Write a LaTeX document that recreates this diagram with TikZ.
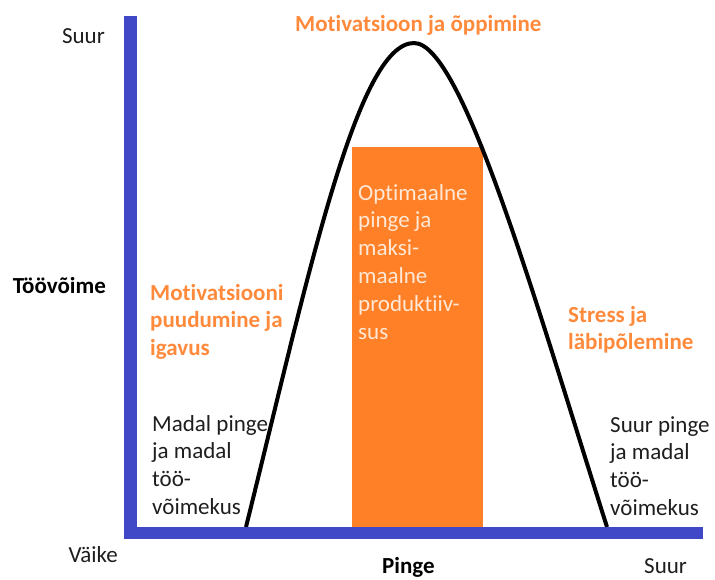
\documentclass[tikz,border=0pt]{standalone}
\usepackage{fontspec}
\setmainfont{Carlito}[Ligatures=NoCommon]
\definecolor{axisblue}{HTML}{4048C8}
\definecolor{boxorange}{HTML}{FF8026}
\definecolor{txtorange}{HTML}{FF8A3C}
\definecolor{boxtext}{HTML}{FFE8D6}
\definecolor{darktext}{HTML}{1E1E1E}
\newcommand\stackedlines[1]{\vtop{\baselineskip=27.8pt\lineskiplimit=-20pt\lineskip=0pt #1}}
\begin{document}
\begin{tikzpicture}[x=1pt,y=-1pt,
  every node/.style={inner sep=0pt, font=\fontsize{23}{28}\selectfont},
  lbl/.style={text=darktext},
  bold/.style={text=black, font=\fontsize{23}{28}\selectfont\bfseries},
  hot/.style={text=txtorange, font=\fontsize{23}{28}\selectfont\bfseries},
  boxlbl/.style={text=boxtext},
  axisbar/.style={fill=axisblue, draw=none},
  curveline/.style={line width=4pt, line join=round, black}]
\useasboundingbox (0,0) rectangle (715,579);
% optimal zone
\fill[boxorange] (352,147) rectangle (483,527);
% bell curve
\coordinate (cl) at (246,527);
\coordinate (ctop) at (414,43);
\coordinate (cr) at (607,527);
\draw[curveline] (cl) .. controls (308,277) and (357,43) .. (ctop)
  .. controls (462,43) and (534,297) .. (cr);
% axes
\fill[axisbar] (124,16) rectangle (137,539);
\fill[axisbar] (124,527) rectangle (703,539);
% axis labels
\node[lbl, anchor=base east] (ytop) at (105,43) {Suur};
\node[bold, anchor=base east] (ylab) at (106,293) {Töövõime};
\node[lbl, anchor=base east] (ylow) at (118,562) {Väike};
\node[bold, anchor=base west] (xlab) at (382,573) {Pinge};
\node[lbl, anchor=base west] (xhigh) at (644,573) {Suur};
% zone labels
\node[hot, anchor=base west] (peak) at (295,31) {Motivatsioon ja õppimine};
\node[hot, anchor=base west] (bored) at (150,300)
  {\stackedlines{\hbox{Motivatsiooni}\hbox{puudumine ja}\hbox{igavus}}};
\node[lbl, anchor=base west] (low) at (152,431)
  {\stackedlines{\hbox{Madal pinge}\hbox{ja madal}\hbox{töö-}\hbox{võimekus}}};
\node[hot, anchor=base west] (stress) at (568,322)
  {\stackedlines{\hbox{Stress ja}\hbox{läbipõlemine}}};
\node[lbl, anchor=base west] (high) at (610,432)
  {\stackedlines{\hbox{Suur pinge}\hbox{ja madal}\hbox{töö-}\hbox{võimekus}}};
\node[boxlbl, anchor=base west] (opt) at (358,200)
  {\stackedlines{\hbox{Optimaalne}\hbox{pinge ja}\hbox{maksi-}\hbox{maalne}\hbox{produktiiv-}\hbox{sus}}};
\end{tikzpicture}
\end{document}
